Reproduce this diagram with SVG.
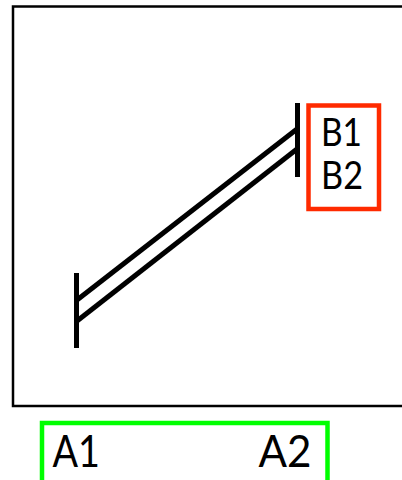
<svg xmlns="http://www.w3.org/2000/svg" width="402" height="480" viewBox="0 0 402 480">
<style>
.t{font-family:Lato,"Open Sans","Liberation Sans",sans-serif;fill:#000}
.tick{stroke:#000;stroke-width:5;fill:none}
.ln{stroke:#000;stroke-width:5;fill:none}
</style>
<rect x="0" y="0" width="402" height="480" fill="#fff"/>
<g id="frame"><rect x="13" y="6.5" width="420" height="399.5" fill="none" stroke="#000" stroke-width="2.5"/></g>
<g id="connectors">
<line class="ln" x1="77" y1="300" x2="297" y2="129"/>
<line class="ln" x1="77" y1="321" x2="297" y2="149"/>
</g>
<g id="tickA"><line class="tick" x1="76.5" y1="273" x2="76.5" y2="348"/></g>
<g id="tickB"><line class="tick" x1="297.5" y1="103" x2="297.5" y2="177"/></g>
<g id="nodeB">
<rect x="308.5" y="105.5" width="70.5" height="103.5" fill="none" stroke="#ff2a00" stroke-width="4.5"/>
<text class="t" x="321" y="145.5" font-size="39" textLength="41" lengthAdjust="spacingAndGlyphs">B1</text>
<text class="t" x="321" y="188.5" font-size="39" textLength="42" lengthAdjust="spacingAndGlyphs">B2</text>
</g>
<g id="nodeA">
<rect x="42" y="423" width="285.5" height="60" fill="none" stroke="#00ff00" stroke-width="4.5"/>
<text class="t" x="52.5" y="467" font-size="44" textLength="47.5" lengthAdjust="spacingAndGlyphs">A1</text>
<text class="t" x="258.5" y="467" font-size="44" textLength="53" lengthAdjust="spacingAndGlyphs">A2</text>
</g>
</svg>
